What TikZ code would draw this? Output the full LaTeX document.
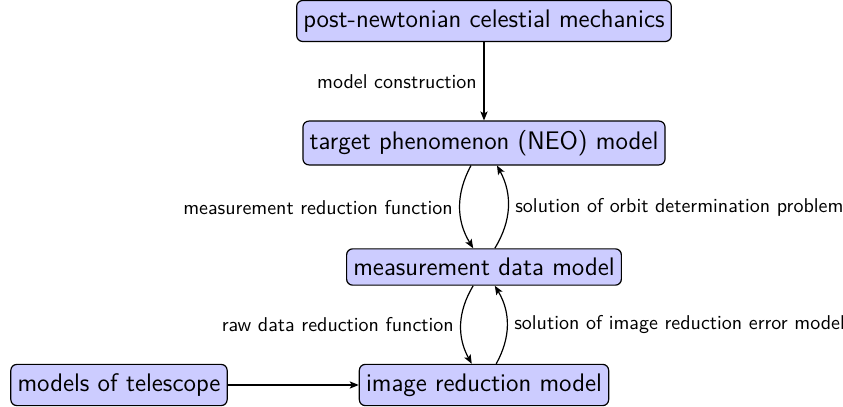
\documentclass[tikz,border=0pt]{standalone}
\usepackage{amsmath}
\usepackage{tikz}
\usetikzlibrary{arrows.meta}

\begin{document}
\begin{tikzpicture}[x=0.5pt, y=-0.5pt, >={Stealth[length=4.5pt, width=3.6pt, inset=1pt]}, font=\sffamily, semithick,
  model/.style = {draw, fill=blue!20, rounded corners=3pt, inner ysep=4.6pt, font=\sffamily\fontsize{12.7}{15}\selectfont}]
	\useasboundingbox (0, 0) rectangle (843, 407);
	\node[model] (post) at (484, 21){post-newtonian celestial mechanics};
	\node[model] (neo) at (484, 143){target phenomenon (NEO) model};
	\node[model] (meas) at (484, 267){measurement data model};
	\node[model] (img) at (484, 385){image reduction model};
	\node[model] (tel) at (119, 385){models of telescope};
	\draw[->] (post) -- node[left]{model construction} (neo);
	\draw[->] (neo) to[bend right=30] node[left]{measurement reduction function} (meas);
	\draw[->] (meas) to[bend right=30] node[right]{solution of orbit determination problem} (neo);
	\draw[->] (meas) to[bend right=30] node[left]{raw data reduction function} (img);
	\draw[->] (img) to[bend right=30] node[right]{solution of image reduction error model} (meas);
	\draw[->] (tel) -- (img);
\end{tikzpicture}
\end{document}
